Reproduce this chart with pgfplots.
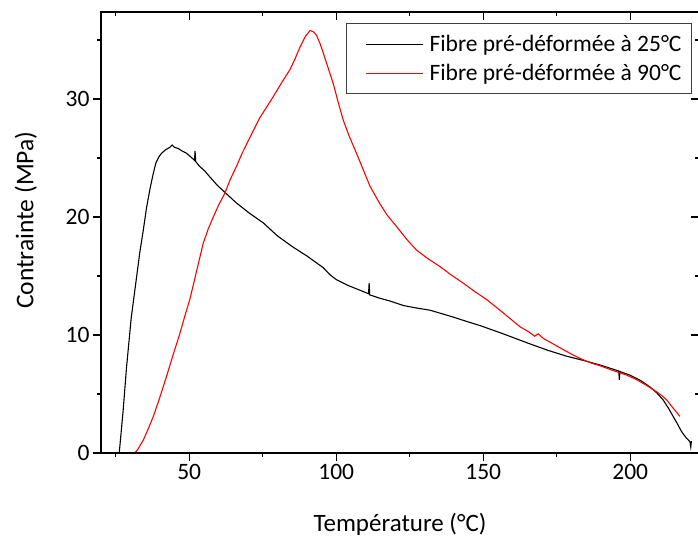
\documentclass[border=0pt]{standalone}
\usepackage{fontspec}
\setmainfont{Carlito}
\usepackage{pgfplots}
\pgfplotsset{compat=1.18}
\newcommand\lab{\fontsize{23.5bp}{28bp}\selectfont}
\newcommand\xlab{\fontsize{25bp}{30bp}\selectfont}
\newcommand\ylab{\fontsize{25.5bp}{30bp}\selectfont}
\pgfplotsset{
  common/.style={
    at={(0,0)}, anchor=south west,
    scale only axis, width=598bp, height=441bp,
    xmin=20, xmax=223.4, ymin=0, ymax=37.37,
    xtick={50,100,150,200}, ytick={0,10,20,30},
    minor xtick={25,75,125,175,225}, minor ytick={5,15,25,35},
    major tick length=8bp, minor tick length=4bp,
    every tick/.append style={black, line width=1.2bp},
    axis line style={line width=1.3bp},
  }
}
\begin{document}
\begin{tikzpicture}
\path[use as bounding box] (-101bp,-84bp) rectangle (597bp,453bp);
\begin{axis}[common,
  tick pos=left, tick align=outside,
  ticklabel style={font=\lab},
  /pgf/number format/assume math mode=true,
  xlabel={Température (°C)}, ylabel={Contrainte (MPa)},
  every axis x label/.style={at={(axis description cs:0.5,0)}, anchor=base, yshift=-78bp, font=\xlab},
  every axis y label/.style={at={(axis description cs:-0.1132,0.528)}, anchor=base, rotate=90, font=\ylab},
  legend style={at={(axis description cs:0.9883,0.975)}, anchor=north east,
    draw=black!75, line width=1bp, font=\lab,
    inner xsep=10bp, inner ysep=8.5bp, row sep=5bp,
    nodes={inner sep=0pt, text height=19bp, text depth=5bp}},
  legend cell align=left,
  legend image code/.code={\path (0bp,0bp) (72bp,0bp); \draw[#1, line width=1bp] (9bp,0bp) -- (66bp,0bp);},
]
\addplot[black, line width=1.1bp] coordinates {
(26.2,0) (27.5,3.5) (28.7,7.3) (30.3,11.5) (32.1,14.9) (33.2,17.0) (34.4,18.9) (35.5,20.8) (36.6,22.3) (37.7,23.6) (38.7,24.6) (39.7,25.1) (40.6,25.4) (42,25.7) (43.4,25.9) (44.2,26.1) (45,25.9) (46.3,25.8) (47.5,25.6) (49.1,25.4) (50.5,25.1) (51.8,24.8) (52.0,25.6) (52.2,24.7) (53.5,24.3) (55.3,23.9) (57.0,23.4) (59.5,22.7) (62.1,22.1) (66,21.2) (70.6,20.3) (75.2,19.5) (80,18.4) (85,17.5) (90,16.7) (95.6,15.7) (97.9,15.1) (100,14.7) (104,14.2) (108,13.8) (111,13.5) (111.2,14.4) (111.4,13.4) (115,13.1) (118,12.9) (122.8,12.5) (127,12.3) (131.9,12.1) (136,11.8) (140,11.5) (145,11.1) (148.9,10.8) (155.7,10.2) (160,9.8) (165.3,9.3) (167,9.15) (172,8.7) (178.4,8.2) (184,7.85) (189.7,7.46) (196.1,6.95) (196.3,6.2) (196.5,6.9) (199.9,6.6) (203.5,6.15) (206.7,5.6) (209,5.1) (211.2,4.5) (213,3.8) (214.6,3.1) (216,2.5) (217.5,1.8) (219,1.3) (220.3,0.96) (220.6,0.5) (220.8,1.0)
};
\addlegendentry{Fibre pré-déformée à 25°C}
\addplot[red, line width=1.1bp] coordinates {
(27.6,0) (31.5,0) (32.5,0.3) (34.4,1.1) (36,2.0) (37.8,3.1) (40,4.7) (42.3,6.5) (44.5,8.3) (46.8,10.1) (48.5,11.6) (50.2,13.0) (52.5,15.4) (54.8,17.8) (56.5,19.0) (58.2,20.0) (60,21.0) (62.1,22.0) (64,23.2) (66.1,24.3) (68,25.4) (70.6,26.7) (74,28.4) (78.6,30.2) (81.5,31.4) (84.3,32.5) (86,33.4) (87.7,34.4) (89.5,35.3) (91.1,35.8) (92.2,35.7) (93.3,35.4) (94.5,34.7) (95.6,33.9) (97.3,32.6) (99,31.3) (100.7,29.7) (102.4,28.2) (104.5,26.8) (106.9,25.4) (109.2,24.0) (111.5,22.6) (114.9,21.1) (117.5,20.1) (120.5,19.2) (124,18.1) (127.3,17.2) (131,16.5) (135.3,15.8) (139,15.1) (143.2,14.4) (147,13.7) (151.2,13.0) (155.7,12.1) (159.1,11.4) (162.5,10.7) (165.3,10.3) (167.5,9.9) (168.7,10.1) (170.5,9.7) (172.7,9.4) (175.5,9.0) (178.4,8.6) (181,8.25) (184,7.9) (187,7.6) (189.7,7.4) (194,7.0) (198.8,6.6) (201.5,6.3) (204.4,5.9) (206.7,5.55) (208.9,5.2) (210.8,4.85) (212.4,4.5) (213.5,4.15) (214.6,3.8) (215.8,3.45) (216.9,3.1)
};
\addlegendentry{Fibre pré-déformée à 90°C}
\end{axis}
\begin{axis}[common,
  tick pos=right, tick align=inside,
  xticklabels={}, yticklabels={},
]
\end{axis}
\end{tikzpicture}
\end{document}
